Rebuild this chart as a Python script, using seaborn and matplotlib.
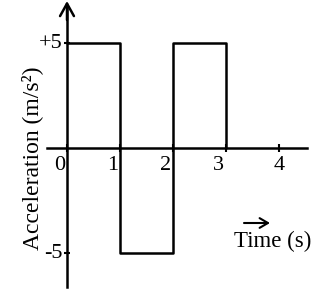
import matplotlib
matplotlib.use('Agg')
import matplotlib.pyplot as plt
import seaborn as sns
import pandas as pd
from matplotlib.transforms import ScaledTranslation

# ---- data ----
time_s = [0, 1, 2, 3]
accel = [5, -5, 5, 0]          # value held from each time (steps-post)
x_ticks = [0, 1, 2, 3, 4]
x_tick_labels = ['0', '1', '2', '3', '4']
y_ticks = [5, -5]
y_tick_labels = ['+5', '-5']
x_label = 'Time (s)'
y_label = 'Acceleration (m/s²)'

sns.set_theme(style='white')
plt.rcParams['font.family'] = ['Liberation Serif', 'DejaVu Serif']

W, H = 334, 295
fig = plt.figure(figsize=(W / 100, H / 100), dpi=100)
ax = fig.add_axes([0, 0, 1, 1])
ax.set_facecolor('white')
fig.patch.set_facecolor('white')

X0, PXU = 67, 53      # pixel of t=0, px per second
Y0, PYU = 148, 21     # pixel of a=0, px per m/s^2
ax.set_xlim(-X0 / PXU, (W - X0) / PXU)
ax.set_ylim(-(H - Y0) / PYU, Y0 / PYU)

df = pd.DataFrame({'t': time_s, 'a': accel})
sns.lineplot(data=df, x='t', y='a', drawstyle='steps-post', color='black',
             lw=1.8, ax=ax, legend=False)

# axes through origin
for s in ['top', 'right']:
    ax.spines[s].set_visible(False)
ax.spines['left'].set_position(('data', 0))
ax.spines['bottom'].set_position(('data', 0))
for s in ['left', 'bottom']:
    ax.spines[s].set_color('black')
    ax.spines[s].set_linewidth(1.8)
ax.spines['bottom'].set_bounds((47 - X0) / PXU, (307 - X0) / PXU)
ax.spines['left'].set_bounds((Y0 - 287) / PYU, (Y0 - 8) / PYU)

ax.annotate('', xy=(0, (Y0 - 1) / PYU), xytext=(0, (Y0 - 20) / PYU),
            arrowprops=dict(arrowstyle='->,head_length=0.9,head_width=0.5',
                            lw=1.8, color='black', mutation_scale=10,
                            shrinkA=0, shrinkB=0))

ax.set_xticks(x_ticks, labels=x_tick_labels)
ax.set_yticks(y_ticks, labels=y_tick_labels)
ax.tick_params(axis='x', direction='inout', length=6, width=1.5, color='black',
               labelsize=16, pad=2.5, labelcolor='black', bottom=True)
ax.tick_params(axis='y', direction='inout', length=5, width=1.5, color='black',
               labelsize=16, pad=1, labelcolor='black', left=True)
ax.set_xlabel('')
ax.set_ylabel('')

for i, lab in enumerate(ax.get_xticklabels()):
    if i < len(x_tick_labels) - 1:
        lab.set_ha('right')
        lab.set_transform(lab.get_transform() + ScaledTranslation(-2 / 100, 0, fig.dpi_scale_trans))
for lab in ax.get_yticklabels():
    lab.set_va('center')

fig.text(234 / W, 1 - 247 / H, x_label, fontsize=16.5, ha='left', va='baseline', color='black')
ax.annotate('', xy=(270 / W, 1 - 223 / H), xytext=(244 / W, 1 - 223 / H),
            xycoords='figure fraction', textcoords='figure fraction',
            arrowprops=dict(arrowstyle='->,head_length=0.6,head_width=0.35',
                            lw=1.5, color='black', mutation_scale=10,
                            shrinkA=0, shrinkB=0))
fig.text(32 / W, 1 - 158 / H, y_label, fontsize=17, rotation=90,
         ha='center', va='center', color='black')

fig.savefig('out.png', dpi=100, facecolor='white')
